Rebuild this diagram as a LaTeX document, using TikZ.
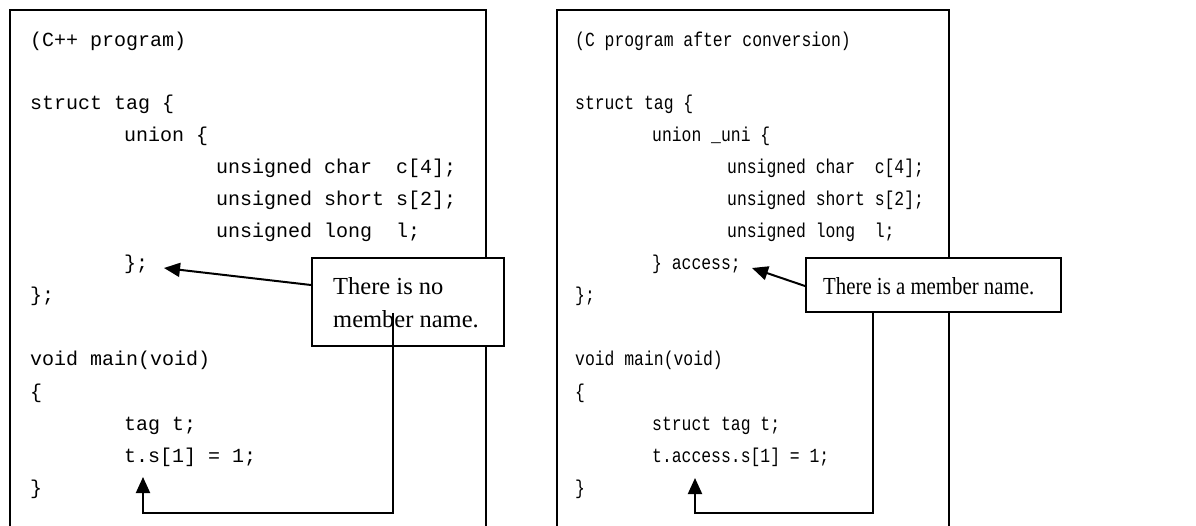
\documentclass[tikz,border=0pt]{standalone}
\usepackage{fontspec}
\setmainfont{Liberation Serif}
\setmonofont{Liberation Mono}
\usetikzlibrary{arrows.meta}
\newcommand{\narrow}[1]{\scalebox{0.82}[1]{#1}}
\begin{document}
\begin{tikzpicture}[x=1pt,y=-1pt,
  code/.style={anchor=base west,inner sep=0pt,font=\ttfamily\fontsize{20}{24}\selectfont},
  frame/.style={line width=2pt},
  callout/.style={draw,line width=2pt,fill=white,inner sep=0pt},
  note/.style={anchor=base west,inner sep=0pt,font=\fontsize{24.5}{32}\selectfont},
  conn/.style={line width=2pt,-{Triangle[length=16pt,width=14pt]}}]
\useasboundingbox (0,0) rectangle (1196,526);
\clip (0,0) rectangle (1196,526);
% outer frames
\draw[frame] (10,540) -- (10,10) -- (486,10) -- (486,540);
\draw[frame] (557,540) -- (557,10) -- (949,10) -- (949,540);
% left code
\node[code] (l1) at (30,47) {(C++ program)};
\node[code] (l2) at (30,110) {struct tag \{};
\node[code] (l3) at (124,142) {union \{};
\node[code] (l4) at (216,174) {unsigned char\ \ c[4];};
\node[code] (l5) at (216,206) {unsigned short s[2];};
\node[code] (l6) at (216,238) {unsigned long\ \ l;};
\node[code] (l7) at (124,270) {\};};
\node[code] (l8) at (30,302) {\};};
\node[code] (l9) at (30,366) {void main(void)};
\node[code] (l10) at (30,398) {\{};
\node[code] (l11) at (124,430) {tag t;};
\node[code] (l12) at (124,462) {t.s[1] = 1;};
\node[code] (l13) at (30,494) {\}};
% right code
\node[code] (r1) at (575,47) {\narrow{(C program after conversion)}};
\node[code] (r2) at (575,110) {\narrow{struct tag \{}};
\node[code] (r3) at (652,142) {\narrow{union \_uni \{}};
\node[code] (r4) at (727,174) {\narrow{unsigned char\ \ c[4];}};
\node[code] (r5) at (727,206) {\narrow{unsigned short s[2];}};
\node[code] (r6) at (727,238) {\narrow{unsigned long\ \ l;}};
\node[code] (r7) at (652,270) {\narrow{\} access;}};
\node[code] (r8) at (575,302) {\narrow{\};}};
\node[code] (r9) at (575,366) {\narrow{void main(void)}};
\node[code] (r10) at (575,398) {\narrow{\{}};
\node[code] (r11) at (652,430) {\narrow{struct tag t;}};
\node[code] (r12) at (652,462) {\narrow{t.access.s[1] = 1;}};
\node[code] (r13) at (575,494) {\narrow{\}}};
% callouts
\node[callout,minimum width=192pt,minimum height=88pt] (cl) at (408,302) {};
\node[note] (clt1) at (333,295) {There is no};
\node[note] (clt2) at (333,327) {member name.};
\node[callout,minimum width=255pt,minimum height=54pt] (cr) at (933.5,285) {};
\node[note] (crt) at (823,295) {\scalebox{0.85}[1]{There is a member name.}};
% coordinates
\coordinate (lt1) at (164,268);
\coordinate (lt2) at (143,477);
\coordinate (ls) at (393,313);
\coordinate (rt1) at (752,268);
\coordinate (rt2) at (695,478);
% connectors
\draw[conn] (cl.west |- 0,285) -- (lt1);
\draw[conn] (ls) -- (393,513) -- (lt2 |- 0,513) -- (lt2);
\draw[conn] (cr.west |- 0,286) -- (rt1);
\draw[conn] (cr.south -| 873,0) -- (873,513) -- (rt2 |- 0,513) -- (rt2);
\end{tikzpicture}
\end{document}
